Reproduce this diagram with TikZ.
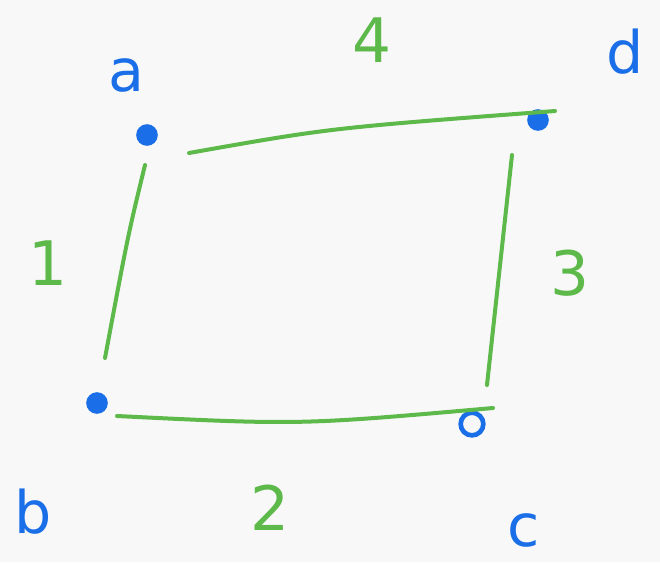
\documentclass[tikz,border=0pt]{standalone}
\usepackage{fontspec}
\setmainfont{DejaVu Sans}
\definecolor{bg}{HTML}{F8F8F8}
\definecolor{pen}{HTML}{1A6FE8}
\definecolor{grn}{HTML}{5DB94A}
\tikzset{
  dot/.style={circle, fill=pen, draw=pen, line width=1.2pt, inner sep=0pt, minimum size=15pt},
  ring/.style={circle, draw=pen, line width=3.5pt, inner sep=0pt, minimum size=17pt},
  edge/.style={grn, line width=3pt, line cap=round},
  vlabel/.style={text=pen, font=\fontsize{44}{44}\selectfont},
  elabel/.style={text=grn, font=\fontsize{46}{46}\selectfont}
}
\begin{document}
\begin{tikzpicture}[x=0.75pt, y=-0.75pt]
\fill[bg] (0,0) rectangle (660,562);
\useasboundingbox (0,0) rectangle (660,562);
\node[dot] (a) at (147,135) {};
\node[dot] (b) at (97,403) {};
\node[ring] (c) at (472,424) {};
\node[dot] (d) at (538,120) {};
\node[vlabel] (la) at (126,75) {a};
\node[vlabel] (lb) at (33,512) {b};
\node[vlabel] (lc) at (524,530) {c};
\node[vlabel] (ld) at (625,52) {d};
\node[elabel] (l1) at (48,263) {1};
\node[elabel] (l2) at (270,508) {2};
\node[elabel] (l3) at (570,273) {3};
\node[elabel] (l4) at (372,40) {4};
\coordinate (e1s) at (145,165);
\coordinate (e1e) at (105,358);
\coordinate (e2s) at (117,416);
\coordinate (e2e) at (493,408);
\coordinate (e3s) at (512,155);
\coordinate (e3e) at (487,385);
\coordinate (e4s) at (189,153);
\coordinate (e4e) at (555,111);
\draw[edge] (e1s) .. controls (128,235) .. (e1e);
\draw[edge] (e2s) .. controls (300,425) .. (e2e);
\draw[edge] (e3s) .. controls (500,270) .. (e3e);
\draw[edge] (e4s) .. controls (330,128) .. (e4e);
\end{tikzpicture}
\end{document}
